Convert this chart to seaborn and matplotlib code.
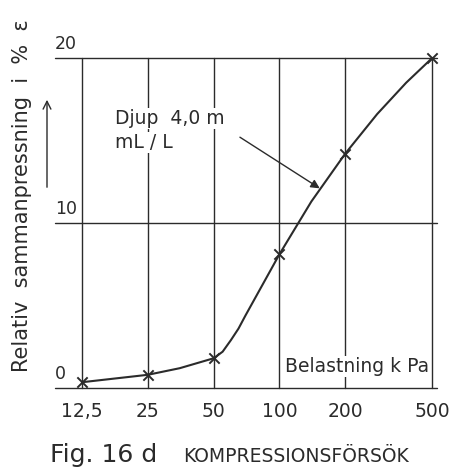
import matplotlib
matplotlib.use("Agg")
import matplotlib.pyplot as plt
import seaborn as sns
import pandas as pd

# ---- data ----
load_kpa = [12.5, 25, 50, 100, 200, 500]
strain_pct = [0.35, 0.8, 1.8, 8.1, 14.2, 20.0]
tick_labels = ["12,5", "25", "50", "100", "200", "500"]

# points
curve_kpa = [12.5, 25, 35, 50, 55, 60, 65, 70, 100, 140, 200, 280, 380, 500]
curve_pct = [0.35, 0.8, 1.2, 1.8, 2.2, 2.9, 3.6, 4.4, 8.1, 11.3, 14.2, 16.6, 18.5, 20.0]

y_ticks = [0, 10, 20]

sns.set_theme(style="white")
plt.rcParams["font.family"] = ["DejaVu Sans"]
ink = "#2b2b2b"

W, H = 452, 470
fig = plt.figure(figsize=(W / 100, H / 100), dpi=100)
fig.patch.set_facecolor("white")
ax = fig.add_axes([55 / W, (H - 388) / H, 382 / W, 330 / H])
ax.set_facecolor("white")

ax.set_xscale("log", base=2)
ax.set_xlim(9.41, 526)
ax.set_ylim(0, 20)

for s in ax.spines.values():
    s.set_visible(False)

# grid
for xv in load_kpa:
    ax.axvline(xv, color=ink, lw=1.0, zorder=1, clip_on=False)
for yv in y_ticks:
    ax.axhline(yv, color=ink, lw=1.0, zorder=1, clip_on=False)

df_curve = pd.DataFrame({"kPa": curve_kpa, "pct": curve_pct})
df_pts = pd.DataFrame({"kPa": load_kpa, "pct": strain_pct})
sns.lineplot(data=df_curve, x="kPa", y="pct", ax=ax, color=ink, lw=1.5,
             estimator=None, sort=False, zorder=3, clip_on=False)
sns.scatterplot(data=df_pts, x="kPa", y="pct", ax=ax, marker="x", s=55,
                color=ink, linewidth=1.4, zorder=4, clip_on=False)

ax.set_xticks(load_kpa)
ax.set_xticklabels(tick_labels, fontsize=13.5, color=ink)
ax.minorticks_off()
ax.tick_params(axis="x", length=0, pad=10)
ax.set_yticks([])
ax.set_xlabel("")
ax.set_ylabel("")

for yv in y_ticks:
    ax.text(0.0, yv + 0.3, str(yv), transform=ax.get_yaxis_transform(),
            ha="left", va="bottom", fontsize=12.5, color=ink)

# annotation
ax.text(17.7, 16.0, "Djup  4,0 m", fontsize=13.5, color=ink, ha="left",
        va="baseline", zorder=5,
        bbox=dict(facecolor="white", edgecolor="none", pad=1))
ax.text(17.7, 14.55, "mL / L", fontsize=13.5, color=ink, ha="left",
        va="baseline", zorder=5,
        bbox=dict(facecolor="white", edgecolor="none", pad=1))
ax.annotate("", xy=(153, 12.1), xytext=(66, 15.2),
            arrowprops=dict(arrowstyle="-|>", color=ink, lw=1.0,
                            mutation_scale=13, shrinkA=0, shrinkB=0),
            zorder=5)

ax.text(106, 0.97, "Belastning k Pa", fontsize=13.5, color=ink, ha="left",
        va="baseline", zorder=5,
        bbox=dict(facecolor="white", edgecolor="none", pad=1))

# y-axis label with arrow
fig.text(22 / W, 1 - 196 / H, "Relativ  sammanpressning  i  %  ε",
         rotation=90, ha="center", va="center", fontsize=15, color=ink)
fig.add_artist(matplotlib.patches.FancyArrowPatch(
    (47 / W, 1 - 190 / H), (47 / W, 1 - 97 / H), transform=fig.transFigure,
    arrowstyle="->", mutation_scale=14, color=ink, lw=1.0))

# caption
fig.text(50 / W, 1 - 462 / H, "Fig. 16 d", fontsize=18, color=ink,
         ha="left", va="baseline")
fig.text(183 / W, 1 - 462 / H, "KOMPRESSIONSFÖRSÖK", fontsize=13.5,
         color=ink, ha="left", va="baseline")

fig.savefig("out.png", dpi=100, facecolor="white")
